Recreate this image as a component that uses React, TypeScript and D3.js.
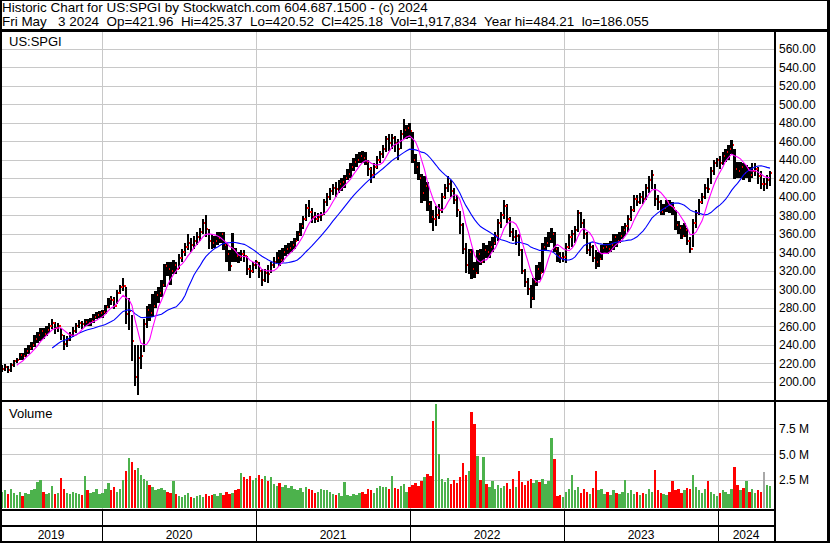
import React from 'react';
import * as d3 from 'd3';

const START = new Date(2019, 4, 10);
const END = new Date(2024, 4, 3);

const titleLine1 = 'Historic Chart for US:SPGI by Stockwatch.com 604.687.1500 - (c) 2024';
const titleLine2 = 'Fri May   3 2024  Op=421.96  Hi=425.37  Lo=420.52  Cl=425.18  Vol=1,917,834  Year hi=484.21  lo=186.055';
const symbolLabel = 'US:SPGI';
const volumeLabel = 'Volume';

const priceTicks = [200, 220, 240, 260, 280, 300, 320, 340, 360, 380, 400, 420, 440, 460, 480, 500, 520, 540, 560];
const volumeTicks = [2.5, 5, 7.5];
const volumeTickLabels = ['2.5 M', '5.0 M', '7.5 M'];
const yearLabels = ['2019', '2020', '2021', '2022', '2023', '2024'];

// weekly closes (May 10 2019 .. May 3 2024)
const closes = [
  214, 216, 213, 218, 222, 224, 229, 228, 233, 236,
  240, 246, 250, 255, 252, 256, 260, 264, 258, 260,
  250, 241, 245, 250, 255, 260, 264, 262, 265, 264,
  266, 270, 272, 274,
  275, 281, 289, 288, 282, 296,
  302, 304, 273, 276, 244, 205, 226, 228, 262, 278,
  274, 282, 294, 296, 305, 325, 322, 320, 326, 322,
  334, 340, 346, 350, 348, 352, 356, 362, 372, 365,
  352, 350, 352, 355, 360, 348, 338, 325, 342, 336,
  335, 338, 336, 322, 320, 326,
  329, 320, 310, 318,
  316, 326, 330, 334, 332, 340, 343, 345, 348, 352,
  360, 368, 376, 388, 384, 378, 376, 378, 380, 394,
  400, 406, 410, 408, 414, 416, 420, 425, 432, 438,
  440, 444, 442, 438, 430, 424, 432, 440, 446, 452,
  462, 458, 464, 458, 452, 468, 472, 474, 471,
  440, 432, 420, 404, 412, 392, 378, 376, 380, 386, 400,
  410, 414, 406, 396, 386, 370,
  344, 326, 340, 322, 318, 338, 330, 342, 340,
  346, 350, 358, 372, 380, 390,
  376, 362, 356, 358, 342, 320, 308, 300, 290, 308, 322, 318, 346,
  350, 354, 360, 344, 336, 334, 335,
  346, 356, 360, 364, 382, 372, 360, 342, 346,
  334, 330, 333, 345, 346, 344, 348, 356, 352, 358,
  364, 368, 376, 386, 398, 394, 400, 398, 410, 418,
  424, 398, 394, 384, 388, 394, 390, 388, 370, 366,
  358, 364, 352, 344, 372, 382, 394, 400, 410, 408,
  428, 436, 440,
  436, 444, 448, 452, 456, 430, 428, 432, 426, 430, 424, 428, 430, 422, 414, 414, 418, 425.18,
];

const highs = [
  218, 219, 217, 220, 224, 226, 231, 231, 236, 240,
  243, 250, 254, 258, 258, 260, 263, 268, 265, 264,
  258, 250, 249, 254, 259, 263, 267, 266, 268, 268,
  269, 273, 275, 277,
  278, 283, 291, 293, 292, 299,
  305, 312, 302, 291, 272, 240, 240, 240, 268, 282,
  284, 295, 298, 302, 310, 327, 330, 330, 332, 330,
  338, 343, 350, 360, 355, 358, 362, 366, 376, 380,
  365, 360, 358, 362, 362, 362, 350, 342, 361, 345,
  340, 342, 342, 336, 326, 330,
  332, 330, 322, 322,
  326, 330, 335, 340, 342, 345, 348, 350, 352, 355,
  363, 372, 379, 392, 396, 388, 383, 382, 384, 398,
  404, 410, 414, 416, 418, 420, 424, 430, 436, 442,
  446, 448, 450, 448, 440, 432, 436, 444, 450, 456,
  466, 468, 468, 466, 462, 472, 484, 478, 480,
  470, 446, 438, 425, 422, 416, 395, 386, 390, 392, 404,
  414, 423, 418, 410, 402, 385,
  372, 350, 344, 344, 330, 342, 344, 350, 348,
  352, 356, 362, 376, 384, 396,
  392, 378, 366, 364, 360, 344, 322, 312, 305, 312, 326, 330, 350,
  356, 362, 366, 362, 346, 340, 340,
  350, 360, 364, 368, 386, 384, 376, 362, 350,
  348, 342, 340, 348, 350, 350, 352, 360, 360, 362,
  368, 372, 380, 390, 402, 402, 404, 406, 414, 422,
  429, 414, 402, 396, 392, 397, 396, 394, 386, 374,
  370, 372, 366, 356, 376, 386, 398, 404, 414, 420,
  432, 440, 442,
  444, 448, 452, 456, 461, 452, 438, 438, 436, 434, 432, 436, 437, 432, 428, 420, 424, 428,
];

const lows = [
  210, 212, 209, 211, 216, 220, 223, 224, 227, 230,
  234, 238, 242, 244, 246, 249, 253, 257, 252, 254,
  245, 234, 238, 244, 248, 253, 258, 257, 259, 260,
  260, 264, 268, 269,
  269, 273, 280, 283, 279, 284,
  295, 298, 262, 256, 222, 195, 186, 214, 232, 258,
  266, 270, 280, 285, 292, 302, 314, 305, 316, 316,
  322, 330, 336, 342, 340, 344, 348, 352, 360, 356,
  344, 343, 345, 348, 350, 342, 330, 320, 330, 330,
  328, 331, 330, 315, 312, 318,
  322, 312, 304, 308,
  307, 318, 323, 328, 325, 330, 336, 338, 340, 344,
  352, 358, 365, 374, 378, 372, 372, 373, 374, 380,
  390, 396, 402, 400, 404, 406, 410, 418, 420, 428,
  432, 436, 437, 434, 422, 415, 420, 430, 436, 442,
  448, 450, 452, 448, 440, 452, 462, 462, 464,
  436, 425, 418, 393, 395, 385, 372, 363, 368, 376, 382,
  398, 405, 400, 392, 378, 360,
  338, 318, 316, 311, 312, 316, 326, 328, 334,
  334, 340, 348, 352, 366, 376,
  372, 356, 352, 348, 336, 316, 302, 294, 280, 288, 304, 310, 318,
  342, 346, 350, 340, 330, 328, 330,
  328, 344, 346, 350, 362, 366, 354, 338, 336,
  330, 322, 324, 332, 338, 338, 340, 342, 346, 350,
  354, 358, 362, 374, 384, 390, 392, 392, 396, 404,
  408, 390, 386, 380, 380, 384, 382, 380, 364, 360,
  354, 356, 348, 339, 346, 366, 380, 392, 398, 404,
  414, 424, 432,
  430, 434, 438, 440, 446, 419, 420, 420, 418, 420, 416, 420, 422, 414, 408, 406, 408, 412,
];

// average daily volume per bar, millions
const volumes = [
  1.4, 1.5, 1.2, 1.6, 1.3, 1.1, 1.4, 1.0, 1.3, 1.2,
  1.5, 1.6, 2.3, 2.5, 1.4, 1.2, 1.3, 1.9, 1.2, 1.3,
  2.7, 1.6, 1.3, 1.2, 1.4, 1.3, 1.2, 1.1, 2.9, 1.5,
  1.3, 1.4, 1.6, 1.2,
  1.3, 1.6, 2.2, 1.5, 1.8, 1.4,
  1.6, 2.5, 3.4, 4.6, 4.3, 3.5, 3.7, 3.0, 2.6, 2.4,
  2.0, 1.8, 1.5, 1.6, 1.7, 1.5, 1.4, 1.3, 2.4, 1.2,
  1.0, 0.9, 1.1, 1.3, 0.9, 0.8, 1.0, 1.1, 0.9, 1.2,
  1.0, 1.1, 1.2, 1.0, 1.3, 1.1, 1.4, 1.2, 1.3, 1.5,
  1.6, 3.2, 2.8, 2.6, 2.9, 2.5,
  2.7, 3.0, 2.6, 2.9,
  2.4, 2.8, 2.1, 1.9, 2.2, 1.8, 2.0, 1.7, 1.9, 1.6,
  1.5, 1.7, 1.4, 1.8, 1.6, 1.5, 1.3, 1.4, 1.6, 1.5,
  1.5, 1.4, 1.2, 1.1, 1.3, 1.0, 2.3, 1.1, 1.0, 1.2,
  1.1, 1.3, 1.4, 1.2, 1.6, 1.5, 1.3, 1.7, 1.9, 1.8,
  1.8, 1.6, 2.9, 1.7, 1.6, 1.9, 2.1, 1.4, 1.8,
  2.0, 2.2, 1.9, 2.4, 2.8, 3.1, 2.9, 8.2, 9.9, 5.0, 2.6,
  2.3, 2.7, 2.1, 2.5, 2.2, 2.8,
  4.2, 3.0, 3.4, 9.1, 7.9, 4.8, 2.5, 4.7, 2.1,
  1.8, 2.4, 1.6, 2.0, 1.7, 1.9,
  2.2, 1.6, 2.6, 1.8, 3.4, 2.3, 2.0, 2.4, 2.6, 2.2, 2.5, 2.3, 2.6,
  2.1, 2.4, 6.6, 4.5, 1.0, 1.1, 0.9,
  1.4, 1.6, 3.0, 1.5, 1.8, 1.3, 1.6, 1.4, 1.2,
  1.7, 3.4, 1.5, 1.6, 1.2, 1.4, 1.1, 1.5, 1.3, 1.2,
  1.4, 2.5, 1.3, 1.5, 1.2, 1.4, 1.1, 1.3, 1.2, 1.6,
  1.4, 3.5, 1.5, 1.3, 1.2, 1.1, 1.4, 2.4, 1.5, 1.6,
  1.3, 1.5, 1.7, 1.6, 3.0, 1.8, 1.5, 1.3, 1.6, 2.4,
  1.4, 1.2, 1.0,
  1.3, 1.5, 1.4, 1.2, 1.6, 3.8, 2.0, 1.5, 1.7, 2.4, 1.4, 1.6, 1.3, 1.5, 1.4, 3.3, 2.0, 1.9,
];

const FONT = '"Liberation Sans", Arial, Helvetica, sans-serif';
const W = 830;
const H = 543;
const LEFT = 2;
const AXIS_X = 774;
const PRICE_TOP = 32;
const PRICE_BOTTOM = 400;
const VOL_TOP = 402;
const VOL_BOTTOM = 509;
const GRID = '#c8c8c8';
const GREEN = '#4cb24c';
const BAR_W = 2.4;

function sma(values: number[], n: number) {
  const out: { i: number; v: number }[] = [];
  for (let i = n - 1; i < values.length; i++) {
    out.push({ i, v: d3.mean(values.slice(i - n + 1, i + 1)) as number });
  }
  return out;
}

export default function App() {
  const dates = d3.timeFriday.range(START, d3.timeDay.offset(END, 1));
  const x = d3.scaleTime().domain([START, END]).range([LEFT, 770]);
  const y = d3.scaleLinear().domain([180, 578.2]).range([400.2, 32]);
  const yv = d3.scaleLinear().domain([0, 10]).range([506, 402.6]);

  const yearStarts = d3.timeYear.range(d3.timeYear.ceil(START), END);
  const yearX = yearStarts.map((d) => Math.round(x(d)));
  const bounds = [0, ...yearX, AXIS_X];

  const maShort = sma(closes, 6);
  const maLong = sma(closes, 18);
  const line = d3
    .line<{ i: number; v: number }>()
    .x((d) => x(dates[d.i]))
    .y((d) => y(d.v));

  const volColor = (i: number) => {
    if (i === 0) return GREEN;
    if (closes[i] > closes[i - 1]) return GREEN;
    if (closes[i] < closes[i - 1]) return '#ff0000';
    return '#a8a8a8';
  };

  return (
    <svg
      width={W}
      height={H}
      style={{ position: 'absolute', left: 0, top: 0, background: '#fff' }}
      fontFamily={FONT}
    >
      <rect x={0} y={0} width={W} height={H} fill="#fff" />
      <defs>
        <clipPath id="pclip">
          <rect x={LEFT} y={PRICE_TOP} width={AXIS_X - LEFT} height={PRICE_BOTTOM - PRICE_TOP} />
        </clipPath>
      </defs>

      {/* gridlines */}
      <g shapeRendering="crispEdges" stroke={GRID} strokeWidth={1}>
        {priceTicks.map((t) => (
          <line key={'pg' + t} x1={LEFT} x2={AXIS_X} y1={Math.round(y(t)) + 0.5} y2={Math.round(y(t)) + 0.5} />
        ))}
        {yearX.map((gx, k) => (
          <line key={'pv' + k} x1={gx + 0.5} x2={gx + 0.5} y1={PRICE_TOP} y2={PRICE_BOTTOM} />
        ))}
        {volumeTicks.map((t) => (
          <line key={'vg' + t} x1={LEFT} x2={AXIS_X} y1={Math.round(yv(t)) + 0.5} y2={Math.round(yv(t)) + 0.5} />
        ))}
        {yearX.map((gx, k) => (
          <line key={'vv' + k} x1={gx + 0.5} x2={gx + 0.5} y1={VOL_TOP} y2={VOL_BOTTOM} />
        ))}
      </g>

      {/* volume bars */}
      <g shapeRendering="crispEdges">
        {volumes.map((v, i) => {
          const cx = x(dates[i]);
          const top = Math.round(yv(v));
          return (
            <rect key={'v' + i} x={cx - BAR_W / 2} y={top} width={BAR_W} height={VOL_BOTTOM - 1 - top} fill={volColor(i)} />
          );
        })}
      </g>

      {/* price bars with red close ticks */}
      <g clipPath="url(#pclip)" shapeRendering="crispEdges">
        {closes.map((c, i) => {
          const cx = x(dates[i]);
          const yh = Math.round(y(highs[i]));
          const yl = Math.round(y(lows[i]));
          return <rect key={'b' + i} x={cx - BAR_W / 2} y={yh} width={BAR_W} height={Math.max(1, yl - yh)} fill="#000" />;
        })}
        {closes.map((c, i) => {
          const cx = x(dates[i]);
          return <rect key={'t' + i} x={cx + 1.2} y={Math.round(y(c)) - 1} width={1.2} height={2} fill="#ff0000" />;
        })}
      </g>

      {/* moving averages */}
      <g clipPath="url(#pclip)" fill="none" strokeWidth={1.1}>
        <path d={line(maLong) || ''} stroke="#0000ff" />
        <path d={line(maShort) || ''} stroke="#ff00ff" />
      </g>

      {/* panel labels */}
      <text x={9} y={46} fontSize={13} fill="#000">{symbolLabel}</text>
      <text x={9} y={418} fontSize={13} fill="#000">{volumeLabel}</text>

      {/* frame */}
      <g fill="#000" shapeRendering="crispEdges">
        <rect x={0} y={0} width={W} height={1} />
        <rect x={0} y={29} width={W} height={3} />
        <rect x={0} y={PRICE_BOTTOM} width={W} height={2} />
        <rect x={0} y={VOL_BOTTOM} width={AXIS_X} height={2} />
        <rect x={0} y={525} width={AXIS_X} height={2} />
        <rect x={AXIS_X} y={29} width={2} height={H - 29} />
        <rect x={0} y={0} width={2} height={H} />
        <rect x={827} y={0} width={3} height={H} />
        <rect x={0} y={541} width={W} height={2} />
        {yearX.map((gx, k) => (
          <rect key={'sep' + k} x={gx} y={511} width={1} height={30} />
        ))}
      </g>

      {/* title */}
      <text x={2} y={12} fontSize={13.45} fill="#000" style={{ whiteSpace: 'pre' }}>
        {titleLine1}
      </text>
      <text x={2} y={26} fontSize={13.45} fill="#000" style={{ whiteSpace: 'pre' }}>
        {titleLine2}
      </text>

      {/* price axis labels */}
      {priceTicks.map((t) => (
        <text key={'pl' + t} x={779} y={y(t) + 4.3} fontSize={12} fill="#000">
          {t.toFixed(2)}
        </text>
      ))}

      {/* volume axis labels */}
      {volumeTicks.map((t, k) => (
        <text key={'vl' + t} x={779} y={yv(t) + 4.3} fontSize={12} fill="#000">
          {volumeTickLabels[k]}
        </text>
      ))}

      {/* year labels */}
      {yearLabels.map((lab, k) => (
        <text key={'yl' + lab} x={(bounds[k] + bounds[k + 1]) / 2} y={539} fontSize={12} textAnchor="middle" fill="#000">
          {lab}
        </text>
      ))}
    </svg>
  );
}
